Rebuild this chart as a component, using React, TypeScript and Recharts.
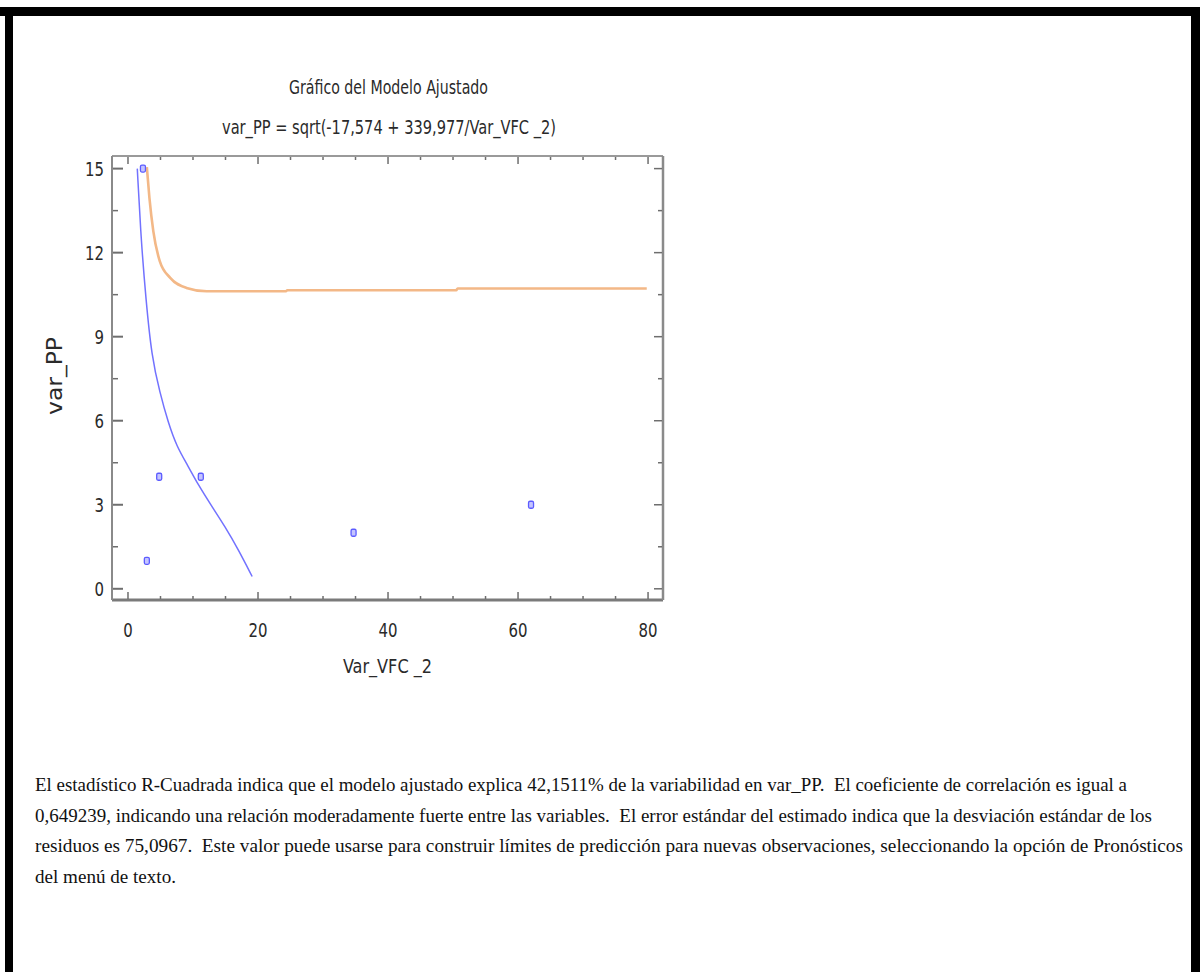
import React from 'react';
import { ComposedChart, XAxis, YAxis, Line, Scatter } from 'recharts';

// Observed points (Var_VFC _2, var_PP)
const obsX = [2.3, 2.9, 4.8, 11.2, 34.7, 62.0];
const obsY = [15, 1, 4, 4, 2, 3];

// Fitted model curve (blue)
const fitX = [1.43, 1.43, 2.0, 2.77, 3.64, 4.9, 6.2, 7.5, 9.2, 10.8, 12.9, 14.9, 17.0, 19.1, 19.1];
const fitY = [15.0, 15.0, 12.5, 10.3, 8.3, 7.0, 5.92, 5.08, 4.4, 3.71, 2.94, 2.23, 1.39, 0.44, 0.44];

// Orange curve
const limX = [2.9, 3.3, 3.9, 4.9, 6.5, 9.0, 12.1, 24.3, 24.5, 50.5, 50.7, 79.8];
const limY = [15.05, 13.95, 12.76, 11.69, 11.1, 10.74, 10.62, 10.62, 10.66, 10.66, 10.72, 10.72];

const xTicks = [0, 5, 10, 15, 20, 25, 30, 35, 40, 45, 50, 55, 60, 65, 70, 75, 80];
const xLabelTicks = [0, 20, 40, 60, 80];
const yTicks = [0, 1.5, 3, 4.5, 6, 7.5, 9, 10.5, 12, 13.5, 15];
const yLabelTicks = [0, 3, 6, 9, 12, 15];

const title = 'Gráfico del Modelo Ajustado';
const subtitle = 'var_PP = sqrt(-17,574 + 339,977/Var_VFC _2)';
const xLabel = 'Var_VFC _2';
const yLabel = 'var_PP';
const paragraph = [
  'El estadístico R-Cuadrada indica que el modelo ajustado explica 42,1511% de la variabilidad en var_PP.  El coeficiente de correlación es igual a',
  '0,649239, indicando una relación moderadamente fuerte entre las variables.  El error estándar del estimado indica que la desviación estándar de los',
  'residuos es 75,0967.  Este valor puede usarse para construir límites de predicción para nuevas observaciones, seleccionando la opción de Pronósticos',
  'del menú de texto.',
];

const obsData = obsX.map((x, i) => ({ x, y: obsY[i] }));
const fitData = fitX.map((x, i) => ({ x, y: fitY[i] }));
const limData = limX.map((x, i) => ({ x, y: limY[i] }));

const FONT = "'Liberation Sans Narrow', 'Arial Narrow', 'DejaVu Sans Condensed', sans-serif";
const TICK = '#6e6e6e';
const TXT = '#2a2a2a';

const BottomTick = (p: any) => {
  const { x, y, payload } = p;
  const major = xLabelTicks.includes(payload.value);
  const s = String(payload.value);
  return (
    <g>
      <line x1={x} x2={x} y1={y - 1} y2={y - (major ? 8 : 4)} stroke={TICK} strokeWidth={1.5} />
      {major && (
        <text x={x} y={y + 37} textAnchor="middle" fontFamily={FONT} fontSize={20} fill={TXT}
          textLength={s.length * 9.5} lengthAdjust="spacingAndGlyphs">
          {s}
        </text>
      )}
    </g>
  );
};
const TopTick = (p: any) => {
  const { x, y, payload } = p;
  const major = xLabelTicks.includes(payload.value);
  return <line x1={x} x2={x} y1={y + 1} y2={y + (major ? 8 : 4)} stroke={TICK} strokeWidth={1.5} />;
};
const LeftTick = (p: any) => {
  const { x, y, payload } = p;
  const major = yLabelTicks.includes(payload.value);
  const s = String(payload.value);
  return (
    <g>
      <line x1={x + 1} x2={x + (major ? 11 : 6)} y1={y} y2={y} stroke={TICK} strokeWidth={major ? 2 : 1.5} />
      {major && (
        <text x={x - 8} y={y + 7} textAnchor="end" fontFamily={FONT} fontSize={20} fill={TXT}
          textLength={s.length * 9.5} lengthAdjust="spacingAndGlyphs">
          {s}
        </text>
      )}
    </g>
  );
};
const RightTick = (p: any) => {
  const { x, y, payload } = p;
  const major = yLabelTicks.includes(payload.value);
  return <line x1={x - 1} x2={x - (major ? 9 : 5)} y1={y} y2={y} stroke={TICK} strokeWidth={1.5} />;
};

const PointShape = (p: any) => {
  const { cx, cy } = p;
  return <rect x={cx - 2.5} y={cy - 3.5} width={5} height={7} rx={1.5} fill="#c4c4ff" stroke="#5c5cff" strokeWidth={1.3} />;
};

export default function App() {
  return (
    <div style={{ position: 'absolute', left: 0, top: 0, width: 1200, height: 972, background: '#fff', overflow: 'hidden' }}>
      <div style={{ position: 'absolute', left: 0, top: 7, width: 1200, height: 9, background: '#000' }} />
      <div style={{ position: 'absolute', left: 5, top: 7, width: 8, height: 965, background: '#000' }} />
      <div style={{ position: 'absolute', left: 1191, top: 7, width: 9, height: 965, background: '#000' }} />
      <div style={{ position: 'absolute', left: 0, top: 0 }}>
        <ComposedChart width={700} height={700} margin={{ top: 155, left: 111, right: 36, bottom: 99 }}>
          <XAxis
            xAxisId="b"
            dataKey="x"
            type="number"
            domain={[-2.46, 82.3]}
            allowDataOverflow
            ticks={xTicks}
            interval={0}
            height={1}
            tickSize={0}
            tickMargin={0}
            tickLine={false}
            axisLine={{ stroke: '#7a7a7a', strokeWidth: 3 }}
            tick={BottomTick}
          />
          <XAxis
            xAxisId="t"
            orientation="top"
            dataKey="x"
            type="number"
            domain={[-2.46, 82.3]}
            allowDataOverflow
            ticks={xTicks}
            interval={0}
            height={1}
            tickSize={0}
            tickMargin={0}
            tickLine={false}
            axisLine={{ stroke: '#9a9a9a', strokeWidth: 2 }}
            tick={TopTick}
          />
          <YAxis
            yAxisId="l"
            dataKey="y"
            type="number"
            domain={[-0.4, 15.45]}
            allowDataOverflow
            ticks={yTicks}
            interval={0}
            width={1}
            tickSize={0}
            tickMargin={0}
            tickLine={false}
            axisLine={{ stroke: '#8a8a8a', strokeWidth: 2 }}
            tick={LeftTick}
          />
          <YAxis
            yAxisId="r"
            orientation="right"
            dataKey="y"
            type="number"
            domain={[-0.4, 15.45]}
            allowDataOverflow
            ticks={yTicks}
            interval={0}
            width={1}
            tickSize={0}
            tickMargin={0}
            tickLine={false}
            axisLine={{ stroke: '#8a8a8a', strokeWidth: 2.5 }}
            tick={RightTick}
          />
          <Line
            xAxisId="b"
            yAxisId="l"
            data={limData}
            dataKey="y"
            type="monotone"
            stroke="#f3b887"
            strokeWidth={2.6}
            dot={false}
            isAnimationActive={false}
          />
          <Line
            xAxisId="b"
            yAxisId="l"
            data={fitData}
            dataKey="y"
            type="basis"
            stroke="#7272ff"
            strokeWidth={1.5}
            dot={false}
            isAnimationActive={false}
          />
          <Scatter
            xAxisId="b"
            yAxisId="l"
            data={obsData}
            dataKey="y"
            shape={PointShape}
            isAnimationActive={false}
          />
        </ComposedChart>
      </div>
      <svg style={{ position: 'absolute', left: 0, top: 0, pointerEvents: 'none' }} width={1200} height={972}>
        <text x={289} y={94} textLength={199} lengthAdjust="spacingAndGlyphs" fontFamily={FONT} fontSize={19} fill={TXT}>
          {title}
        </text>
        <text x={222} y={134} textLength={334} lengthAdjust="spacingAndGlyphs" fontFamily={FONT} fontSize={19} fill={TXT}>
          {subtitle}
        </text>
        <text x={343} y={673} textLength={89} lengthAdjust="spacingAndGlyphs" fontFamily={FONT} fontSize={20} fill={TXT}>
          {xLabel}
        </text>
        <text x={0} y={0} transform="translate(62,415) rotate(-90)" textLength={78} lengthAdjust="spacingAndGlyphs"
          fontFamily={FONT} fontSize={21} fill={TXT}>
          {yLabel}
        </text>
        {paragraph.map((line, i) => (
          <text
            key={i}
            x={35}
            y={791 + i * 30.5}
            textLength={[1092, 1117, 1148, 141][i]}
            lengthAdjust="spacingAndGlyphs"
            fontFamily="'Liberation Serif', 'Times New Roman', serif"
            fontSize={19}
            fill="#111"
            style={{ whiteSpace: 'pre' }}
          >
            {line}
          </text>
        ))}
      </svg>
    </div>
  );
}
